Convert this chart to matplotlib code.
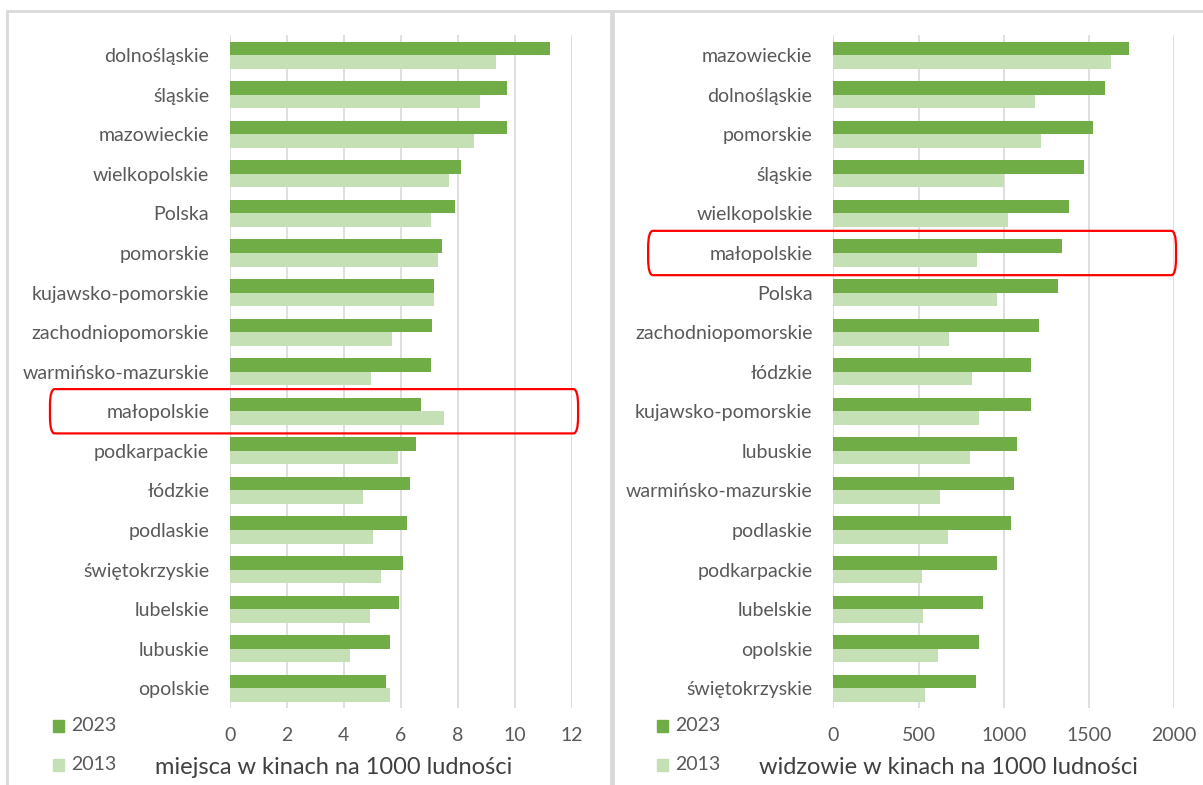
import matplotlib
matplotlib.use("Agg")
import matplotlib.pyplot as plt
from matplotlib.patches import Rectangle, FancyBboxPatch
from matplotlib.transforms import blended_transform_factory
import numpy as np

plt.rcParams["font.family"] = ["Lato", "DejaVu Sans"]

# seats in cinemas per 1000 population
seats_regions = [
    "dolnośląskie", "śląskie", "mazowieckie", "wielkopolskie", "Polska",
    "pomorskie", "kujawsko-pomorskie", "zachodniopomorskie",
    "warmińsko-mazurskie", "małopolskie", "podkarpackie", "łódzkie",
    "podlaskie", "świętokrzyskie", "lubelskie", "lubuskie", "opolskie",
]
seats_2023 = [11.24, 9.73, 9.73, 8.10, 7.92, 7.44, 7.15, 7.08, 7.05,
              6.72, 6.52, 6.33, 6.21, 6.09, 5.94, 5.62, 5.49]
seats_2013 = [9.34, 8.78, 8.58, 7.68, 7.05, 7.32, 7.15, 5.69, 4.94,
              7.52, 5.89, 4.66, 5.01, 5.29, 4.91, 4.23, 5.62]

# cinema viewers per 1000 population
viewers_regions = [
    "mazowieckie", "dolnośląskie", "pomorskie", "śląskie", "wielkopolskie",
    "małopolskie", "Polska", "zachodniopomorskie", "łódzkie",
    "kujawsko-pomorskie", "lubuskie", "warmińsko-mazurskie", "podlaskie",
    "podkarpackie", "lubelskie", "opolskie", "świętokrzyskie",
]
viewers_2023 = [1734, 1595, 1523, 1468, 1382, 1343, 1318, 1204, 1159,
                1159, 1079, 1060, 1040, 960, 880, 854, 835]
viewers_2013 = [1627, 1185, 1216, 1001, 1026, 841, 960, 676, 815,
                854, 802, 624, 671, 518, 524, 616, 538]

years = ["2023", "2013"]
xticks_seats = [0, 2, 4, 6, 8, 10, 12]
xticks_viewers = [0, 500, 1000, 1500, 2000]

DARK = "#70AD47"
LIGHT = "#C5E0B4"
TXT = "#595959"
GRID = "#D9D9D9"

W, H = 1203, 785
fig = plt.figure(figsize=(W / 100, H / 100), dpi=100)


def px(x0, y0, x1, y1):
    return [x0 / W, 1 - y1 / H, (x1 - x0) / W, (y1 - y0) / H]


# panel frames
for x0, x1 in [(7, 611), (613, 1210)]:
    fig.patches.append(Rectangle((x0 / W, -0.05), (x1 - x0) / W, 1.05 - 11 / H,
                                 transform=fig.transFigure, fill=False,
                                 edgecolor=GRID, linewidth=2))


def panel(rect, regions, v23, v13, ticks, xlabel, label_x, highlight, hx, lx):
    ax = fig.add_axes(rect)
    y = np.arange(len(regions))
    h = 0.343
    ax.barh(y - h / 2, v23, height=h, color=DARK, zorder=3)
    ax.barh(y + h / 2, v13, height=h, color=LIGHT, zorder=3)
    ax.set_ylim(len(regions) - 0.5, -0.5)
    ax.set_xlim(ticks[0], ticks[-1])
    ax.set_xticks(ticks)
    ax.set_yticks(y)
    ax.set_yticklabels(regions, fontsize=14)
    ax.tick_params(length=0, labelcolor=TXT)
    ax.tick_params(axis="y", pad=15)
    ax.tick_params(axis="x", pad=14, labelsize=14)
    ax.grid(axis="x", color=GRID, linewidth=1.2, zorder=0)
    for s in ax.spines.values():
        s.set_visible(False)
    fig.text(label_x / W, 1 - 767 / H, xlabel, ha="center", va="center",
             fontsize=17, color="#404040")
    # red highlight box around one region
    i = regions.index(highlight)
    tr = blended_transform_factory(ax.transAxes, ax.transData)
    ax.add_patch(FancyBboxPatch((hx[0], i - 0.56), hx[1] - hx[0], 1.12,
                                boxstyle="round,pad=0,rounding_size=0.014",
                                transform=tr, fill=False, edgecolor="#FF0000",
                                linewidth=1.6, clip_on=False, zorder=5,
                                mutation_aspect=30))
    # legend: small squares with year labels
    for yr, col, yc in zip(years, [DARK, LIGHT], [725.5, 764.5]):
        fig.patches.append(Rectangle((lx / W, 1 - (yc + 6) / H), 11 / W, 12 / H,
                                     transform=fig.transFigure, color=col))
        fig.text((lx + 18) / W, 1 - yc / H, yr, ha="left", va="center",
                 fontsize=14, color=TXT)
    return ax


panel(px(230, 35.4, 571.6, 708), seats_regions, seats_2023, seats_2013,
      xticks_seats, "miejsca w kinach na 1000 ludności", 334, "małopolskie",
      (-0.527, 1.019), 53)
panel(px(833.3, 35.4, 1174.3, 708), viewers_regions, viewers_2023,
      viewers_2013, xticks_viewers, "widzowie w kinach na 1000 ludności", 948,
      "małopolskie", (-0.543, 1.005), 657)

fig.savefig("out.png", dpi=100)
